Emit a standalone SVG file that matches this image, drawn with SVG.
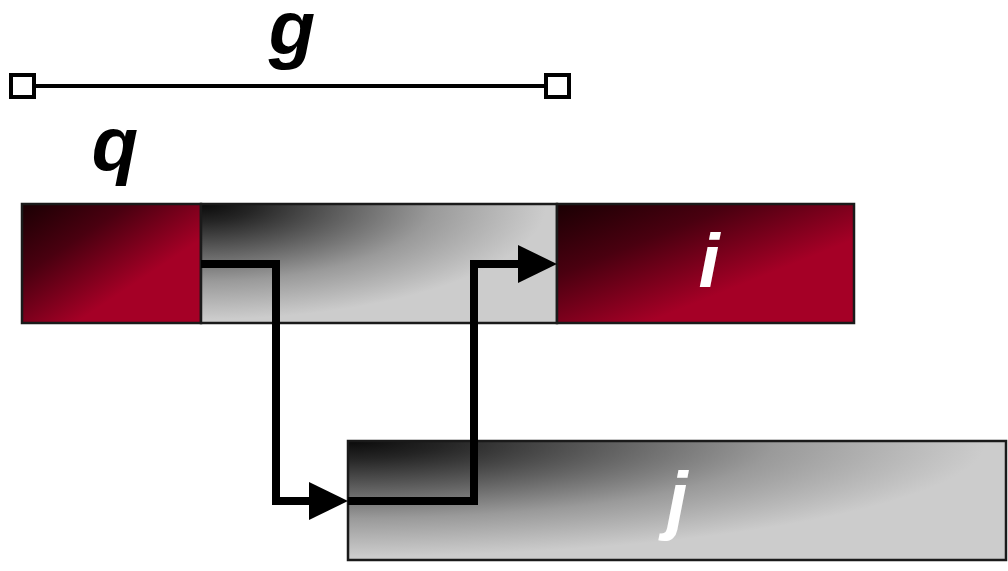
<svg xmlns="http://www.w3.org/2000/svg" width="1008" height="571" viewBox="0 0 1008 571">
  <style>
    .lbl { font-family: "Liberation Sans", Arial, sans-serif; font-weight: bold; font-style: italic; font-size: 76px; text-anchor: middle; }
    .dark { fill: #000000; }
    .light { fill: #ffffff; }
    .box { stroke: #1a1a1a; stroke-width: 2.5; }
    .conn { fill: none; stroke: #000000; stroke-width: 8; stroke-linejoin: miter; }
    .bar { stroke: #000000; stroke-width: 4; fill: none; }
    .endsq { fill: #ffffff; stroke: #000000; stroke-width: 4; }
  </style>
  <defs>
    <linearGradient id="redGrad" x1="0" y1="0" x2="1" y2="1">
      <stop offset="0" stop-color="#1a0003"/>
      <stop offset="0.3" stop-color="#4a0010"/>
      <stop offset="0.65" stop-color="#a50026"/>
      <stop offset="1" stop-color="#a50026"/>
    </linearGradient>
    <radialGradient id="grayGrad" cx="0" cy="0" fx="0" fy="0" r="1">
      <stop offset="0" stop-color="#0a0a0a"/>
      <stop offset="0.15" stop-color="#252525"/>
      <stop offset="0.65" stop-color="#9a9a9a"/>
      <stop offset="0.97" stop-color="#cccccc"/>
      <stop offset="1" stop-color="#cccccc"/>
    </radialGradient>
    <marker id="arrow" markerUnits="userSpaceOnUse" markerWidth="39" markerHeight="38" viewBox="0 0 39 38" refX="11" refY="19" orient="auto">
      <path d="M0,0 L39,19 L0,38 Z" fill="#000000"/>
    </marker>
  </defs>

  <g id="scale-g">
    <line class="bar" x1="35" y1="86" x2="546" y2="86"/>
    <rect class="endsq" x="11" y="75" width="23" height="22"/>
    <rect class="endsq" x="546" y="75" width="23" height="22"/>
    <text class="lbl dark" x="292" y="54">g</text>
  </g>

  <g id="label-q">
    <text class="lbl dark" x="115" y="170">q</text>
  </g>

  <g id="node-q">
    <rect class="box" x="22" y="204" width="179" height="119" fill="url(#redGrad)"/>
  </g>

  <g id="node-gap">
    <rect class="box" x="201" y="204" width="356" height="119" fill="url(#grayGrad)"/>
  </g>

  <g id="node-i">
    <rect class="box" x="557" y="204" width="297" height="119" fill="url(#redGrad)"/>
    <text class="lbl light" x="709" y="287">i</text>
  </g>

  <g id="node-j">
    <rect class="box" x="348" y="441" width="658" height="119" fill="url(#grayGrad)"/>
    <text class="lbl light" x="677" y="525">j</text>
  </g>

  <g id="connectors">
    <polyline class="conn" points="201,264 276,264 276,501 320,501" marker-end="url(#arrow)"/>
    <polyline class="conn" points="348,501 474,501 474,264 529,264" marker-end="url(#arrow)"/>
  </g>
</svg>
